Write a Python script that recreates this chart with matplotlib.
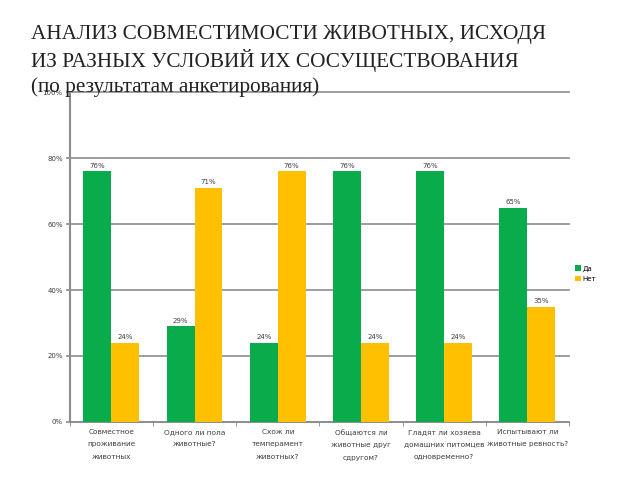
import numpy as np
from matplotlib import pyplot as plt

categories = [
    "Совместное\nпроживание\nживотных",
    "Одного ли пола\nживотные?",
    "Схож ли\nтемперамент\nживотных?",
    "Общаются ли\nживотные друг\nсдругом?",
    "Гладят ли хозяева\nдомашних питомцев\nодновременно?",
    "Испытывают ли\nживотные ревность?",
]
da = [76, 29, 24, 76, 76, 65]
net = [24, 71, 76, 24, 24, 35]

green = "#0aab4b"
yellow = "#fec000"
gray = "#8c8c8c"

fig = plt.figure(figsize=(6.4, 4.8), dpi=100)
ax = fig.add_axes([0.109, 0.121, 0.78, 0.687])

x = np.arange(len(categories))
w = 0.335
b1 = ax.bar(x - w / 2, da, w, color=green, label="Да", zorder=3)
b2 = ax.bar(x + w / 2, net, w, color=yellow, label="Нет", zorder=3)

for bars in (b1, b2):
    for r in bars:
        ax.text(r.get_x() + r.get_width() / 2, r.get_height() + 0.8, f"{int(r.get_height())}%",
                ha="center", va="bottom", fontsize=5, color="#404040")

ax.set_xlim(-0.5, len(categories) - 0.5)
ax.set_ylim(0, 100)
ax.set_yticks(range(0, 101, 20))
ax.set_yticklabels([f"{v}%" for v in range(0, 101, 20)], fontsize=5, color="#404040")
ax.yaxis.grid(True, color=gray, linewidth=1.2, zorder=0)
for gl in ax.yaxis.get_gridlines():
    gl.set_clip_on(False)
ax.set_xticks(x)
ax.set_xticklabels(categories, fontsize=5.3, color="#404040", linespacing=2.3)
ax.tick_params(axis="x", length=0, pad=5)
ax.set_xticks(np.arange(-0.5, len(categories), 1), minor=True)
ax.tick_params(axis="x", which="minor", length=3, color=gray, direction="out")
ax.tick_params(axis="y", length=3, color=gray, width=1.2, pad=2)

for s in ("top", "right"):
    ax.spines[s].set_visible(False)
ax.spines["left"].set_color(gray)
ax.spines["left"].set_linewidth(1.5)
ax.spines["bottom"].set_color(gray)
ax.spines["bottom"].set_linewidth(1.2)

ax.legend(loc="center left", bbox_to_anchor=(1.0, 0.45), frameon=False, fontsize=5,
          handlelength=0.8, handleheight=0.8, handletextpad=0.3, labelspacing=0.6)

fig.text(0.048, 0.948, "АНАЛИЗ СОВМЕСТИМОСТИ ЖИВОТНЫХ, ИСХОДЯ\nИЗ РАЗНЫХ УСЛОВИЙ ИХ СОСУЩЕСТВОВАНИЯ\n(по результатам анкетирования)",
         ha="left", va="top", fontsize=15.3, family="Liberation Serif", linespacing=1.3,
         color="#222222")

fig.savefig("out.png", dpi=100)
